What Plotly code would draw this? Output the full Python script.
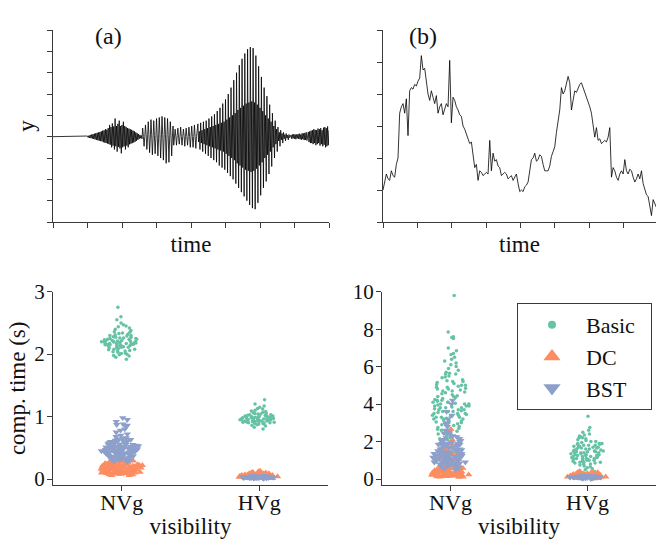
import plotly.graph_objects as go

# ---------------- data ----------------
# (a) signal, sampled every WAVE_DT time units starting at t = 0
WAVE_DT = 0.02
wave_y = [
    # t 0.00 - 0.98 (flat)
    0, 0, 0, 0, 0, 0, 0, 0, 0, 0, 0, 0, 0, 0, 0, 0, 0, 0, 0, 0, 0, 0, 0, 0, 0,
    0, 0, 0, 0, 0, 0, 0, 0, 0, 0, 0, 0, 0, 0, 0, 0, 0, 0, 0, 0, 0, 0, 0, 0, 0,
    # t 1.00 - 2.58 (dense burst)
    0.03, -0.04, 0.05, -0.06, 0.08, -0.07, 0.10, -0.09, 0.12, -0.11,
    0.14, -0.13, 0.16, -0.15, 0.18, -0.17, 0.20, -0.19, 0.22, -0.21,
    0.25, -0.22, 0.28, -0.26, 0.30, -0.28, 0.35, -0.30, 0.33, -0.32,
    0.40, -0.35, 0.55, -0.38, 0.45, -0.50, 0.62, -0.42, 0.48, -0.60,
    0.85, -0.45, 0.50, -0.70, 0.60, -0.48, 0.75, -0.55, 0.50, -0.78,
    0.55, -0.50, 0.70, -0.45, 0.50, -0.60, 0.45, -0.42, 0.40, -0.50,
    0.38, -0.36, 0.35, -0.33, 0.32, -0.30, 0.28, -0.27, 0.25, -0.24,
    0.20, -0.19, 0.16, -0.15, 0.12, -0.10, 0.08, -0.07, 0.05, -0.10,
    # t 2.60 - 3.48
    0.4, 0, -0.45, 0, 0.55, 0.1, -0.6, -0.1, 0.7, 0.1, -0.75, -0.1,
    0.8, 0.1, -0.85, -0.1, 0.75, 0.05, -0.8, -0.1, 0.85, 0.1, -0.9, -0.1,
    0.9, 0.1, -1.0, -0.1, 0.95, 0.1, -1.1, -0.1, 0.9, 0.1, -1.25, -0.1,
    0.85, 0.05, -1.2, -0.1, 0.7, 0.05, -0.9, -0.05, 0.5,
    # t 3.50 - 4.18
    -0.4, 0, 0.35, 0, -0.4, 0.05, 0.4, -0.05, -0.35, 0, 0.45, 0,
    -0.4, 0, 0.35, 0.05, -0.45, 0, 0.4, 0, -0.4, 0, 0.45, 0,
    -0.5, 0, 0.5, 0, -0.5, 0, 0.55, 0, -0.55, 0, 0.6,
    # t 4.20 - 6.88 (large burst)
    0.6, -0.25, 0.25, -0.6, 0.65, -0.3, 0.3, -0.7, 0.7, -0.35, 0.35, -0.8,
    0.75, -0.4, 0.4, -0.9, 0.85, -0.45, 0.45, -1.0, 0.95, -0.5, 0.5, -1.1,
    1.05, -0.55, 0.55, -1.2, 1.2, -0.6, 0.6, -1.35, 1.35, -0.65, 0.65, -1.45,
    1.55, -0.7, 0.7, -1.55, 1.75, -0.8, 0.8, -1.7, 2.0, -0.9, 0.9, -1.85,
    2.3, -1.0, 1.0, -2.0, 2.65, -1.1, 1.1, -2.2, 3.0, -1.25, 1.25, -2.4,
    3.35, -1.35, 1.35, -2.6, 3.65, -1.45, 1.45, -2.8, 3.9, -1.55, 1.55, -3.0,
    4.1, -1.6, 1.6, -3.2, 4.2, -1.65, 1.65, -3.35, 4.15, -1.6, 1.6, -3.4,
    3.8, -1.5, 1.5, -3.1, 3.3, -1.35, 1.35, -2.75, 2.8, -1.2, 1.2, -2.4,
    2.3, -1.0, 1.0, -2.1, 1.9, -0.85, 0.85, -1.75, 1.5, -0.7, 0.7, -1.4,
    1.1, -0.5, 0.5, -1.0, 0.75, -0.35, 0.35, -0.7, 0.45, -0.2, 0.2, -0.45,
    0.3, -0.15, 0.15, -0.3, 0.2, -0.1, 0.1, -0.2, 0.15, -0.07, 0.07, -0.15,
    0.1, -0.05, 0.05,
    # t 6.90 - 7.38
    0.08, -0.1, 0.1, -0.08, 0.12, -0.1, 0.1, -0.12, 0.1, -0.08, 0.12, -0.1,
    0.14, -0.12, 0.1, -0.14, 0.16, -0.12, 0.15, -0.16, 0.18, -0.15, 0.2, -0.18, 0.2,
    # t 7.40 - 8.00 (dense burst)
    0.22, -0.25, 0.25, -0.3, 0.28, -0.3, 0.3, -0.35, 0.35, -0.3, 0.32, -0.4,
    0.3, -0.35, 0.38, -0.3, 0.35, -0.42, 0.4, -0.35, 0.3, -0.45, 0.42, -0.38,
    0.45, -0.5, 0.4, -0.45, 0.48, -0.4, 0.3,
]

# (b) random-walk-like series, sampled every WALK_DT time units starting at t = 0
WALK_DT = 0.0485
walk_y = [
    1.0, 1.3, 1.5, 1.35, 1.3, 1.6, 1.45, 1.4, 1.8, 2.0,
    3.4, 3.6, 3.7, 3.4, 3.85, 2.7, 4.1, 4.2, 4.15, 4.3,
    4.25, 4.4, 4.5, 5.2, 4.75, 4.8, 4.4, 4.0, 3.8, 4.1,
    3.9, 3.7, 3.95, 3.4, 3.6, 3.7, 3.35, 3.5, 3.7, 3.6,
    5.05, 3.1, 3.9, 3.8, 3.6, 3.5, 3.35, 3.3, 3.0, 2.9,
    2.75, 2.6, 2.45, 2.5, 2.15, 1.7, 1.8, 1.3, 1.6, 1.55,
    1.45, 1.5, 1.55, 1.5, 2.55, 1.6, 2.15, 1.9, 1.95, 1.75,
    1.7, 1.45, 1.5, 1.55, 1.5, 1.35, 1.4, 1.45, 1.3, 1.4,
    1.5, 1.2, 0.95, 1.0, 0.95, 1.1, 1.15, 1.25, 1.6, 1.95,
    2.0, 2.15, 1.9, 1.95, 2.1, 2.05, 1.8, 1.6, 1.6, 1.6,
    1.75, 2.05, 2.2, 2.35, 2.8, 3.1, 3.5, 4.2, 4.0, 4.1,
    4.3, 4.55, 4.35, 3.5, 3.8, 4.1, 4.05, 4.2, 4.3, 4.35,
    4.2, 4.1, 3.95, 3.8, 3.6, 3.4, 3.0, 2.65, 2.95, 2.55,
    2.6, 2.45, 2.5, 2.55, 2.5, 2.65, 2.95, 1.4, 1.7, 1.6,
    1.4, 1.3, 1.5, 1.6, 1.5, 1.95, 1.6, 1.5, 1.65, 1.6,
    1.4, 1.25, 1.35, 1.5, 1.35, 1.6, 1.2, 1.0, 0.85, 0.8,
    0.45, 0.2, 0.7, 0.55, 0.45,
]

categories = ["NVg", "HVg"]
series = ["Basic", "DC", "BST"]

# computation times (s), left panel
left_nvg_basic = [2.75, 2.6, 2.55, 2.5, 2.47, 2.45, 2.44, 2.42, 2.4, 2.38, 2.36, 2.35, 2.34, 2.33,
                  2.32, 2.31, 2.3, 2.3, 2.29, 2.28, 2.27, 2.27, 2.26, 2.25, 2.25, 2.24, 2.24, 2.23,
                  2.22, 2.22, 2.21, 2.21, 2.2, 2.2, 2.2, 2.19, 2.19, 2.18, 2.18, 2.17, 2.17, 2.16,
                  2.16, 2.15, 2.15, 2.14, 2.14, 2.13, 2.13, 2.12, 2.12, 2.11, 2.1, 2.1, 2.09, 2.08,
                  2.08, 2.07, 2.06, 2.05, 2.05, 2.04, 2.03, 2.02, 2.01, 2.0, 1.99, 1.98, 1.97, 1.95,
                  1.92, 2.23, 2.19, 2.17, 2.21, 2.26, 2.14, 2.11, 2.18, 2.2, 2.24, 2.16]
left_hvg_basic = [1.27, 1.2, 1.17, 1.15, 1.13, 1.12, 1.1, 1.09, 1.08, 1.07, 1.06, 1.05, 1.05, 1.04,
                  1.04, 1.03, 1.03, 1.02, 1.02, 1.01, 1.01, 1.0, 1.0, 1.0, 0.99, 0.99, 0.98, 0.98,
                  0.98, 0.97, 0.97, 0.97, 0.96, 0.96, 0.96, 0.95, 0.95, 0.95, 0.95, 0.94, 0.94, 0.94,
                  0.93, 0.93, 0.93, 0.92, 0.92, 0.92, 0.91, 0.91, 0.91, 0.9, 0.9, 0.9, 0.89, 0.89,
                  0.88, 0.88, 0.87, 0.86, 0.85, 0.83, 0.8, 0.96, 0.97, 0.94, 0.92, 0.99, 1.01, 0.95,
                  0.93, 0.9, 0.98]
left_nvg_dc = [0.35, 0.33, 0.32, 0.31, 0.3, 0.3, 0.29, 0.29, 0.28, 0.28, 0.27, 0.27, 0.26, 0.26,
               0.26, 0.25, 0.25, 0.25, 0.24, 0.24, 0.24, 0.23, 0.23, 0.23, 0.22, 0.22, 0.22, 0.22,
               0.21, 0.21, 0.21, 0.21, 0.2, 0.2, 0.2, 0.2, 0.19, 0.19, 0.19, 0.19, 0.18, 0.18, 0.18,
               0.18, 0.17, 0.17, 0.17, 0.17, 0.16, 0.16, 0.16, 0.16, 0.15, 0.15, 0.15, 0.15, 0.14,
               0.14, 0.14, 0.14, 0.13, 0.13, 0.13, 0.13, 0.12, 0.12, 0.12, 0.12, 0.11, 0.11, 0.11,
               0.11, 0.1, 0.1, 0.1, 0.1, 0.09, 0.09, 0.09, 0.08, 0.08, 0.08, 0.07, 0.07, 0.06, 0.06,
               0.2, 0.18, 0.15, 0.13, 0.22, 0.17, 0.12, 0.19, 0.14, 0.16, 0.21, 0.11, 0.24, 0.1]
left_hvg_dc = [0.13, 0.12, 0.11, 0.1, 0.1, 0.09, 0.09, 0.09, 0.08, 0.08, 0.08, 0.08, 0.07, 0.07,
               0.07, 0.07, 0.07, 0.06, 0.06, 0.06, 0.06, 0.06, 0.06, 0.05, 0.05, 0.05, 0.05, 0.05,
               0.05, 0.05, 0.04, 0.04, 0.04, 0.04, 0.04, 0.04, 0.04, 0.03, 0.03, 0.03, 0.03, 0.03,
               0.03, 0.02, 0.02, 0.02, 0.02, 0.02, 0.01, 0.01, 0.01, 0.05, 0.06, 0.04, 0.07, 0.03,
               0.05, 0.06, 0.04, 0.05]
left_nvg_bst = [0.98, 0.95, 0.92, 0.88, 0.87, 0.86, 0.84, 0.8, 0.78, 0.75, 0.72, 0.7, 0.68, 0.66,
                0.65, 0.64, 0.63, 0.62, 0.62, 0.61, 0.61, 0.6, 0.6, 0.59, 0.59, 0.58, 0.58, 0.57,
                0.57, 0.56, 0.56, 0.55, 0.55, 0.55, 0.54, 0.54, 0.53, 0.53, 0.53, 0.52, 0.52, 0.51,
                0.51, 0.51, 0.5, 0.5, 0.5, 0.49, 0.49, 0.49, 0.48, 0.48, 0.48, 0.47, 0.47, 0.47,
                0.46, 0.46, 0.46, 0.45, 0.45, 0.45, 0.45, 0.44, 0.44, 0.44, 0.43, 0.43, 0.43, 0.42,
                0.42, 0.42, 0.41, 0.41, 0.41, 0.4, 0.4, 0.4, 0.39, 0.39, 0.39, 0.38, 0.38, 0.38,
                0.37, 0.37, 0.36, 0.36, 0.35, 0.35, 0.34, 0.34, 0.33, 0.33, 0.32, 0.32, 0.31, 0.3,
                0.3, 0.29, 0.28, 0.45, 0.5, 0.42, 0.48, 0.55, 0.4, 0.44, 0.52, 0.47]
left_hvg_bst = [0.06, 0.055, 0.05, 0.05, 0.048, 0.045, 0.045, 0.043, 0.042, 0.04, 0.04, 0.04,
                0.038, 0.038, 0.037, 0.036, 0.035, 0.035, 0.035, 0.034, 0.033, 0.033, 0.032,
                0.032, 0.031, 0.03, 0.03, 0.03, 0.03, 0.029, 0.028, 0.028, 0.027, 0.027, 0.026,
                0.025, 0.025, 0.025, 0.024, 0.023, 0.022, 0.022, 0.021, 0.02, 0.02, 0.019, 0.018,
                0.017, 0.015, 0.012, 0.01, 0.03, 0.035, 0.028, 0.032, 0.026, 0.038, 0.024]

# computation times (s), right panel
right_nvg_basic = [9.8, 7.85, 7.6, 7.55, 7.5, 7.0, 6.85, 6.7, 6.65, 6.5, 6.4, 6.3, 6.2, 6.1, 6.0,
                   5.9, 5.8, 5.7, 5.65, 5.6, 5.5, 5.45, 5.4, 5.3, 5.25, 5.2, 5.15, 5.1, 5.05, 5.0,
                   5.0, 4.95, 4.9, 4.85, 4.8, 4.8, 4.75, 4.7, 4.65, 4.6, 4.55, 4.5, 4.45, 4.4, 4.35,
                   4.3, 4.25, 4.2, 4.15, 4.1, 4.1, 4.05, 4.0, 4.0, 3.95, 3.9, 3.9, 3.85, 3.8, 3.8,
                   3.75, 3.7, 3.7, 3.65, 3.6, 3.6, 3.55, 3.5, 3.5, 3.45, 3.4, 3.4, 3.35, 3.3, 3.3,
                   3.25, 3.2, 3.2, 3.15, 3.1, 3.1, 3.05, 3.0, 3.0, 2.95, 2.9, 2.85, 2.8, 2.75, 2.7,
                   2.65, 2.6, 2.55, 2.5, 2.45, 2.4, 2.35, 2.3, 2.25, 2.2, 2.15, 2.1, 2.0, 1.9, 1.8,
                   1.7, 1.6, 1.5, 1.4, 1.3, 1.2, 1.1, 1.0, 0.9, 0.8, 0.7, 4.0, 3.8, 4.2, 3.6, 5.2,
                   4.9, 3.3, 2.9, 4.4, 3.9, 3.5, 5.6, 4.7, 3.7, 4.1, 3.2, 2.6, 1.9, 2.2, 1.5]
right_hvg_basic = [3.35, 2.75, 2.6, 2.5, 2.4, 2.35, 2.3, 2.25, 2.2, 2.2, 2.15, 2.1, 2.05, 2.0, 2.0,
                   1.95, 1.9, 1.9, 1.85, 1.85, 1.8, 1.8, 1.75, 1.75, 1.7, 1.7, 1.65, 1.65, 1.6, 1.6,
                   1.55, 1.55, 1.5, 1.5, 1.5, 1.45, 1.45, 1.4, 1.4, 1.4, 1.35, 1.35, 1.3, 1.3, 1.3,
                   1.25, 1.25, 1.2, 1.2, 1.2, 1.15, 1.15, 1.1, 1.1, 1.1, 1.05, 1.05, 1.0, 1.0, 1.0,
                   0.95, 0.95, 0.9, 0.9, 0.85, 0.85, 0.8, 0.8, 0.75, 0.7, 0.65, 0.6, 0.55, 0.5, 0.45,
                   0.4, 0.35, 0.3, 1.3, 1.5, 1.7, 1.2, 1.0, 1.8, 1.4, 1.6, 1.1, 0.9, 1.9, 1.45, 1.25]
right_nvg_dc = [2.65, 2.1, 1.9, 1.8, 1.7, 1.6, 1.55, 1.5, 1.45, 1.4, 1.35, 1.3, 1.25, 1.2, 1.15,
                1.1, 1.05, 1.0, 0.95, 0.9, 0.9, 0.85, 0.8, 0.8, 0.75, 0.7, 0.7, 0.65, 0.65, 0.6,
                0.6, 0.58, 0.55, 0.55, 0.52, 0.5, 0.5, 0.48, 0.45, 0.45, 0.43, 0.4, 0.4, 0.38,
                0.36, 0.35, 0.35, 0.33, 0.32, 0.3, 0.3, 0.29, 0.28, 0.27, 0.26, 0.25, 0.25, 0.24,
                0.23, 0.22, 0.21, 0.2, 0.2, 0.19, 0.18, 0.17, 0.16, 0.15, 0.14, 0.13, 0.12, 0.11,
                0.1, 0.45, 0.5, 0.3, 0.6, 0.35, 0.4, 0.25, 0.55, 0.7, 0.2, 0.38, 0.42, 0.65, 0.28,
                0.33, 1.45, 1.3, 0.9]
right_hvg_dc = [0.4, 0.38, 0.35, 0.33, 0.32, 0.3, 0.3, 0.28, 0.28, 0.27, 0.26, 0.25, 0.25, 0.24,
                0.23, 0.22, 0.22, 0.21, 0.2, 0.2, 0.19, 0.18, 0.18, 0.17, 0.16, 0.16, 0.15, 0.15,
                0.14, 0.14, 0.13, 0.13, 0.12, 0.12, 0.11, 0.11, 0.1, 0.1, 0.09, 0.09, 0.08, 0.08,
                0.07, 0.06, 0.05, 0.04, 0.03, 0.02, 0.15, 0.2, 0.12, 0.25, 0.18, 0.1, 0.3, 0.22]
right_nvg_bst = [4.2, 4.0, 3.6, 3.4, 3.2, 3.0, 2.9, 2.8, 2.6, 2.5, 2.45, 2.4, 2.3, 2.25, 2.2, 2.15,
                 2.1, 2.05, 2.0, 2.0, 1.95, 1.9, 1.9, 1.85, 1.85, 1.8, 1.8, 1.75, 1.7, 1.7, 1.65,
                 1.6, 1.6, 1.55, 1.5, 1.5, 1.45, 1.45, 1.4, 1.4, 1.35, 1.35, 1.3, 1.3, 1.25, 1.25,
                 1.2, 1.2, 1.2, 1.15, 1.15, 1.1, 1.1, 1.1, 1.05, 1.05, 1.0, 1.0, 1.0, 0.95, 0.95,
                 0.9, 0.9, 0.9, 0.85, 0.85, 0.8, 0.8, 0.75, 0.75, 0.7, 0.7, 0.65, 0.6, 0.55, 0.5,
                 1.2, 1.3, 1.1, 1.0, 1.4, 1.25, 0.95, 1.15, 1.35, 1.05, 1.8, 1.9, 1.6, 0.85]
right_hvg_bst = [0.2, 0.18, 0.17, 0.16, 0.16, 0.15, 0.15, 0.14, 0.14, 0.14, 0.13, 0.13, 0.13, 0.12,
                 0.12, 0.12, 0.12, 0.11, 0.11, 0.11, 0.11, 0.1, 0.1, 0.1, 0.1, 0.1, 0.09, 0.09,
                 0.09, 0.09, 0.08, 0.08, 0.08, 0.07, 0.07, 0.06, 0.05, 0.04, 0.03, 0.02, 0.1, 0.12,
                 0.11, 0.09, 0.13, 0.1, 0.08, 0.11]

left_ticks = [0, 1, 2, 3]
right_ticks = [0, 2, 4, 6, 8, 10]

# ---------------- style ----------------
FONT = "Liberation Serif, Times New Roman, serif"
AX = "#3a3a3a"
TXT = "#111111"
COLORS = {"Basic": "#66c2a5", "DC": "#fc8d62", "BST": "#8da0cb"}
SYMBOLS = {"Basic": "circle", "DC": "triangle-up", "BST": "triangle-down"}
SIZES = {"Basic": 3.5, "DC": 6.5, "BST": 6.5}
LEG_SIZES = {"Basic": 8, "DC": 15, "BST": 15}
NBSP = "\u00a0"

fig = go.Figure()

fig.add_trace(go.Scatter(y=wave_y, x0=0, dx=WAVE_DT, mode="lines",
                         line=dict(color="black", width=0.8),
                         xaxis="x", yaxis="y", showlegend=False, hoverinfo="skip"))
fig.add_trace(go.Scatter(y=walk_y, x0=0, dx=WALK_DT, mode="lines",
                         line=dict(color="black", width=0.8),
                         xaxis="x2", yaxis="y2", showlegend=False, hoverinfo="skip"))

panels = [
    ("x3", "y3", {"Basic": (left_nvg_basic, left_hvg_basic),
                  "DC": (left_nvg_dc, left_hvg_dc),
                  "BST": (left_nvg_bst, left_hvg_bst)}),
    ("x4", "y4", {"Basic": (right_nvg_basic, right_hvg_basic),
                  "DC": (right_nvg_dc, right_hvg_dc),
                  "BST": (right_nvg_bst, right_hvg_bst)}),
]
for xa, ya, data in panels:
    for s in series:
        for cat, vals in zip(categories, data[s]):
            fig.add_trace(go.Box(
                y=vals, x=[cat] * len(vals), boxpoints="all", jitter=1, pointpos=0,
                width=0.3, fillcolor="rgba(0,0,0,0)",
                line=dict(color="rgba(0,0,0,0)", width=0),
                marker=dict(color=COLORS[s], symbol=SYMBOLS[s], size=SIZES[s],
                            line=dict(width=0)),
                xaxis=xa, yaxis=ya, showlegend=False, hoverinfo="skip"))

for i, s in enumerate(series):
    fig.add_trace(go.Scatter(x=[None], y=[None], mode="markers", name=s + NBSP * 2,
                             legendgroup=f"g{i}",
                             marker=dict(color=COLORS[s], symbol=SYMBOLS[s],
                                         size=LEG_SIZES[s], line=dict(width=0)),
                             xaxis="x4", yaxis="y4"))


def axis(**kw):
    d = dict(showline=True, linecolor=AX, linewidth=1, ticks="outside", tickcolor=AX,
             ticklen=5, tickwidth=1, showgrid=False, zeroline=False, automargin=False,
             tickfont=dict(family=FONT, size=21, color=TXT),
             title_font=dict(family=FONT, size=23, color=TXT))
    d.update(kw)
    return d


W, H = 656, 541
top_dom = [1 - 222 / H, 1 - 30 / H]
bot_dom = [1 - 485 / H, 1 - 291.7 / H]

fig.update_layout(
    width=W, height=H, margin=dict(l=0, r=0, t=0, b=0, autoexpand=False),
    paper_bgcolor="white", plot_bgcolor="white",
    boxmode="overlay", showlegend=True,
    font=dict(family=FONT, size=21, color=TXT),
    xaxis=axis(domain=[53 / W, 329 / W], range=[0, 8], dtick=1, showticklabels=False,
               anchor="y", title=dict(text="time", standoff=8)),
    yaxis=axis(domain=top_dom, range=[-4, 5], dtick=1, showticklabels=False,
               anchor="x", title=dict(text="y", standoff=5)),
    xaxis2=axis(domain=[383 / W, 1.0], range=[0, 7.94], dtick=1, showticklabels=False,
                anchor="y2", title=dict(text="time", standoff=8)),
    yaxis2=axis(domain=top_dom, range=[0, 6], dtick=1, showticklabels=False, anchor="x2"),
    xaxis3=axis(domain=[53 / W, 328 / W], type="category", categoryorder="array",
                categoryarray=categories, range=[-0.5, 1.5], anchor="y3",
                tickfont=dict(family=FONT, size=22, color=TXT), ticklabelstandoff=-7,
                title=dict(text="visibility", standoff=3)),
    yaxis3=axis(domain=bot_dom, range=[-0.096, 3], tickvals=left_ticks, anchor="x3",
                ticklabelstandoff=-2,
                title=dict(text="comp. time (s)", standoff=2)),
    xaxis4=axis(domain=[382 / W, 1.0], type="category", categoryorder="array",
                categoryarray=categories, range=[-0.5, 1.5], anchor="y4",
                tickfont=dict(family=FONT, size=22, color=TXT), ticklabelstandoff=-7,
                title=dict(text="visibility", standoff=3)),
    yaxis4=axis(domain=bot_dom, range=[-0.32, 10], tickvals=right_ticks, anchor="x4",
                ticklabelstandoff=-2),
    legend=dict(x=517 / W, y=1 - 303 / H, xanchor="left", yanchor="top",
                bordercolor=AX, borderwidth=1, bgcolor="white",
                font=dict(family=FONT, size=22, color=TXT),
                itemwidth=58, tracegroupgap=0, itemsizing="trace"),
    annotations=[
        dict(text="(a)", x=93 / W, y=1 - 21 / H, xref="paper", yref="paper",
             showarrow=False, font=dict(family=FONT, size=24, color=TXT)),
        dict(text="(b)", x=423 / W, y=1 - 21 / H, xref="paper", yref="paper",
             showarrow=False, font=dict(family=FONT, size=24, color=TXT)),
    ],
)

fig.write_html("out.html", config={"displayModeBar": False},
               post_script="document.body.style.margin='0';")
